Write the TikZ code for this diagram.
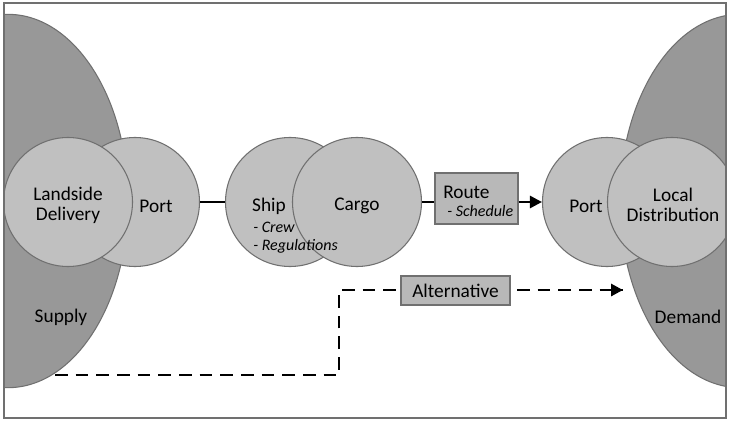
\documentclass[tikz,border=0pt]{standalone}
\usepackage{fontspec}
\setmainfont{Carlito}
\usetikzlibrary{shapes.geometric,arrows.meta,positioning}
\definecolor{ovalgray}{RGB}{152,152,152}
\definecolor{circgray}{RGB}{192,192,192}
\definecolor{boxgray}{RGB}{184,184,184}
\definecolor{edgegray}{RGB}{112,112,112}
\tikzset{
  region/.style={ellipse,draw=edgegray,line width=0.8pt,fill=ovalgray,minimum width=180pt,minimum height=280pt,inner sep=0pt},
  stage/.style={circle,draw=edgegray,line width=0.8pt,fill=circgray,minimum size=96.75pt,inner sep=0pt,align=center},
  tag/.style={rectangle,draw=edgegray,line width=0.8pt,fill=boxgray,inner sep=0pt},
  conn/.style={line width=2pt,black},
  altpath/.style={line width=2.2pt,black,dash pattern=on 9.5pt off 6pt},
  lbl/.style={inner sep=0pt,font=\fontsize{14.5}{17}\selectfont},
  sub/.style={inner sep=0pt,font=\fontsize{12}{14.5}\selectfont\itshape}
}
\begin{document}
\begin{tikzpicture}[x=0.75pt,y=-0.75pt,font=\fontsize{14.5}{17}\selectfont]
\useasboundingbox (0,0) rectangle (729,421);
\begin{scope}
\clip (4,3) rectangle (726,418);
\node[region] (supply) at (8,201) {};
\node[region] (demand) at (740,201) {};
\node[stage] (lport) at (135,202) {};
\node[stage] (landside) at (68,202) {};
\node[stage] (ship) at (290,202) {};
\node[stage] (cargo) at (357,202) {};
\node[stage] (rport) at (607,202) {};
\node[stage] (local) at (672,202) {};
\end{scope}
\draw[edgegray,line width=1.1pt] (4,3) rectangle (726,418);

\node[lbl,align=center] (landtxt) at (68,205) {Landside\\[-2pt]Delivery};
\node[lbl] (cargotxt) at (357,206) {Cargo};
\node[lbl,align=center] (localtxt) at (673,205) {Local\\[-2pt]Distribution};
\node[lbl] (supplytxt) at (61,317) {Supply};
\node[lbl] (demandtxt) at (688,317) {Demand};
\node[lbl] (lporttxt) at (156,206) {Port};
\node[lbl] (rporttxt) at (586,206) {Port};
\node[lbl] (shiptxt) at (269,206) {Ship};
\node[sub,anchor=west] (crew) at (253,227) {- Crew};
\node[sub,anchor=west] (regs) at (253,246) {- Regulations};

\node[tag,minimum width=62.25pt,minimum height=38.25pt] (route) at (476.5,198.5) {};
\node[lbl,anchor=west] (routetxt) at (443,192) {Route};
\node[sub,anchor=west] (sched) at (447,211) {- Schedule};

\coordinate (dstart) at (55,375);
\coordinate (bend) at (339,290);
\coordinate (dend) at (623,290);
\draw[altpath] (dstart) -| (bend) -- (455,290);
\draw[altpath] (455,290) -- (dend);
\draw[-{Triangle[length=9pt,width=9pt]},line width=2.2pt] (612,290) -- (dend);
\node[tag,minimum width=81.75pt,minimum height=21.75pt] (alt) at (455.5,290.5) {Alternative};

\draw[conn] (lport.east) -- (ship.west);
\draw[conn] (cargo.east) -- (cargo.east -| route.west);
\draw[conn,-{Triangle[length=9pt,width=9pt]}] (route.east |- rport.west) -- (rport.west);
\end{tikzpicture}
\end{document}
